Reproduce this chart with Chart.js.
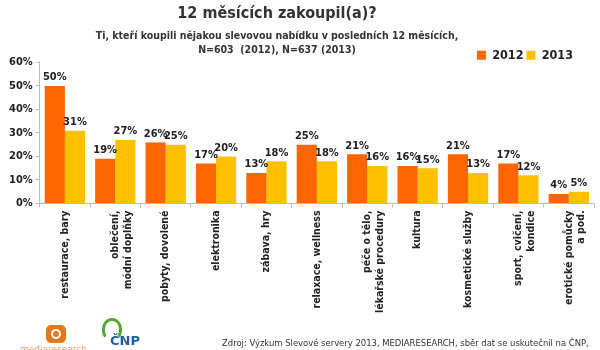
<!DOCTYPE html>
<html>
<head>
<meta charset="utf-8">
<script src="https://cdn.jsdelivr.net/npm/chart.js@4"></script>
<style>
  body { margin: 0; background: #fff; }
  #wrap { position: relative; width: 600px; height: 350px; overflow: hidden; }
  canvas { position: absolute; left: 0; top: 0; }
  .t { position: absolute; width: 600px; left: -23px; text-align: center; color: #333; white-space: nowrap; }
  #title { top: 3px; font: bold 16px "DejaVu Sans Condensed", "DejaVu Sans", sans-serif; }
  #sub { top: 28px; font: bold 10.5px/14px "DejaVu Sans Condensed", "DejaVu Sans", sans-serif; }
  #foot { position: absolute; left: 222px; top: 337px; font: 9.4px "DejaVu Sans Condensed", "DejaVu Sans", sans-serif; color: #333; white-space: nowrap; }
  #logo1 { position: absolute; left: 46px; top: 325px; width: 20px; height: 18px; background: #e2791d; border-radius: 5px; }
  #logo1 div { position: absolute; left: 5px; top: 4px; width: 6px; height: 6px; border: 2px solid #fff; border-radius: 50%; }
  #logo1txt { position: absolute; left: 20px; top: 344px; font: 9px "DejaVu Sans", sans-serif; color: #d9a27a; }
  #logo2 { position: absolute; left: 110px; top: 333px; font: bold 13px "DejaVu Sans", sans-serif; color: #1f5fa8; }
  #logo2g { position: absolute; left: 102px; top: 318px; width: 14px; height: 16px; border: 3px solid #5aa632; border-radius: 50% 50% 40% 40%; border-bottom-color: transparent; }
</style>
</head>
<body>
<div id="wrap">
  <canvas id="c" width="600" height="350"></canvas>
  <div class="t" id="title">12 měsících zakoupil(a)?</div>
  <div class="t" id="sub">Ti, kteří koupili nějakou slevovou nabídku v posledních 12 měsících,<br>N=603&nbsp; (2012), N=637 (2013)</div>
  <div id="logo1"><div></div></div>
  <div id="logo1txt">mediaresearch</div>
  <div id="logo2g"></div>
  <div id="logo2">ČNP</div>
  <div id="foot">Zdroj: Výzkum Slevové servery 2013, MEDIARESEARCH, sběr dat se uskutečnil na ČNP,</div>
</div>
<script>
const categories = [
  'restaurace, bary',
  ['oblečení,', 'módní doplňky'],
  'pobyty, dovolené',
  'elektronika',
  'zábava, hry',
  'relaxace, wellness',
  ['péče o tělo,', 'lékařské procedury'],
  'kultura',
  'kosmetické služby',
  ['sport, cvičení,', 'kondice'],
  ['erotické pomůcky', 'a pod.']
];
const values2012 = [50, 19, 26, 17, 13, 25, 21, 16, 21, 17, 4];
const values2013 = [31, 27, 25, 20, 18, 18, 16, 15, 13, 12, 5];
const yTicks = [0, 10, 20, 30, 40, 50, 60];

const FONT = '"DejaVu Sans Condensed", "DejaVu Sans", sans-serif';

// value labels above bars
const valueLabels = {
  id: 'valueLabels',
  afterDatasetsDraw(chart) {
    const ctx = chart.ctx;
    ctx.save();
    ctx.font = 'bold 11px ' + FONT;
    ctx.fillStyle = '#222';
    ctx.textAlign = 'center';
    ctx.textBaseline = 'bottom';
    chart.data.datasets.forEach((ds, i) => {
      chart.getDatasetMeta(i).data.forEach((bar, j) => {
        ctx.fillText(ds.data[j] + '%', bar.x, bar.y - 3);
      });
    });
    ctx.restore();
  }
};

// move the legend down/left, where the original has it
const legendShift = {
  id: 'legendShift',
  afterLayout(chart) {
    const lg = chart.legend;
    lg.left -= 18;
    lg.right -= 18;
    lg.top += 9;
    lg.bottom += 9;
  }
};

new Chart(document.getElementById('c'), {
  type: 'bar',
  data: {
    labels: categories,
    datasets: [
      { label: '2012', data: values2012, backgroundColor: '#ff6600', categoryPercentage: 0.8, barPercentage: 1 },
      { label: '2013', data: values2013, backgroundColor: '#ffc000', categoryPercentage: 0.8, barPercentage: 1 }
    ]
  },
  options: {
    responsive: false,
    animation: false,
    layout: { padding: { left: 6, right: 6, top: 37, bottom: 34 } },
    plugins: {
      legend: {
        position: 'top',
        align: 'end',
        labels: {
          boxWidth: 9, boxHeight: 9, padding: 3,
          color: '#222',
          font: { family: FONT, size: 12.5, weight: 'bold' }
        }
      },
      tooltip: { enabled: false }
    },
    scales: {
      x: {
        grid: { drawOnChartArea: false, drawTicks: true, tickLength: 4, color: '#bbb' },
        border: { color: '#bbb' },
        ticks: {
          minRotation: 90, maxRotation: 90, autoSkip: false,
          color: '#222',
          font: { family: FONT, size: 10.5, weight: 'bold' }
        }
      },
      y: {
        min: 0, max: 60,
        afterBuildTicks(axis) { axis.ticks = yTicks.map(v => ({ value: v })); },
        grid: { drawOnChartArea: false, drawTicks: true, tickLength: 4, color: '#bbb' },
        border: { color: '#bbb' },
        ticks: {
          color: '#222',
          font: { family: FONT, size: 11, weight: 'bold' },
          callback: v => v + '%'
        }
      }
    }
  },
  plugins: [valueLabels, legendShift]
});
</script>
</body>
</html>
